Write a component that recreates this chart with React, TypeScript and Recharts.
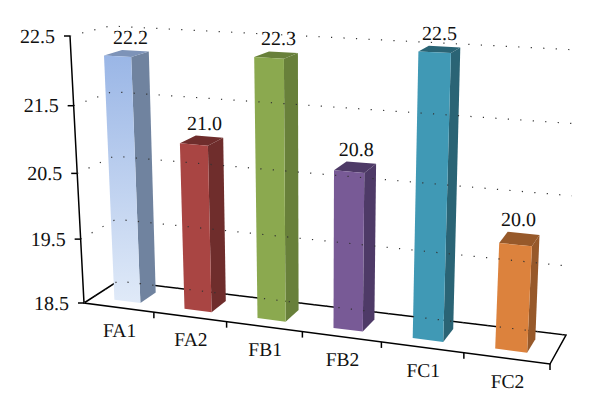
import React from 'react';
import { BarChart, Bar, XAxis, YAxis, Cell, LabelList } from 'recharts';

const categories = ['FA1', 'FA2', 'FB1', 'FB2', 'FC1', 'FC2'];
const values = [22.2, 21.0, 22.3, 20.8, 22.5, 20.0];
const valueTicks = [18.5, 19.5, 20.5, 21.5, 22.5];

const frontColors = ['url(#fa1Fill)', '#a94543', '#8ba94f', '#785a96', '#4099b5', '#dc823d'];
const sideColors = ['#70839f', '#6f2d2c', '#68803a', '#4e3a67', '#2a6475', '#97592a'];
const topColors = ['#7d93b8', '#6f2d2c', '#68803a', '#4e3a67', '#2a6475', '#97592a'];

const data = categories.map((name, i) => ({ name, value: values[i] }));

const WIDTH = 600;
const HEIGHT = 418;
const MARGIN = 20;
const AXIS_SIZE = 1;
const PLOT_W = WIDTH - MARGIN * 2;
const PLOT_H = HEIGHT - MARGIN * 2;
const FONT = '"Liberation Serif", serif';
const TEXT_STYLE = { textRendering: 'geometricPrecision' } as const;

type Pt = [number, number];
type Quad = [Pt, Pt, Pt, Pt]; // bottom-left, bottom-right, top-right, top-left

// the box corners as they sit in the picture
const frontPlane: Quad = [[84, 303], [550, 364], [566, 63], [70, 36]];
const backPlane: Quad = [[118, 281], [566, 335], [578, 50], [110, 26]];
const BAR_NEAR = 0.27;
const BAR_FAR = 0.74;

// unit square -> quad homography
function homography([p0, p1, p2, p3]: Quad) {
  const dx1 = p1[0] - p2[0];
  const dx2 = p3[0] - p2[0];
  const dx3 = p0[0] - p1[0] + p2[0] - p3[0];
  const dy1 = p1[1] - p2[1];
  const dy2 = p3[1] - p2[1];
  const dy3 = p0[1] - p1[1] + p2[1] - p3[1];
  const det = dx1 * dy2 - dx2 * dy1;
  const g = (dx3 * dy2 - dx2 * dy3) / det;
  const h = (dx1 * dy3 - dx3 * dy1) / det;
  const a = p1[0] - p0[0] + g * p1[0];
  const b = p3[0] - p0[0] + h * p3[0];
  const d = p1[1] - p0[1] + g * p1[1];
  const e = p3[1] - p0[1] + h * p3[1];
  return (u: number, v: number): Pt => {
    const q = g * u + h * v + 1;
    return [(a * u + b * v + p0[0]) / q, (d * u + e * v + p0[1]) / q];
  };
}

const front = homography(frontPlane);
const back = homography(backPlane);

// u along the categories, v up the value axis, w from front to back
function project(u: number, v: number, w: number): Pt {
  const f = front(u, v);
  const b = back(u, v);
  return [f[0] + (b[0] - f[0]) * w, f[1] + (b[1] - f[1]) * w];
}

const toU = (x: number) => (x - MARGIN) / PLOT_W;
const toV = (y: number) => (MARGIN + PLOT_H - y) / PLOT_H;
const path = (pts: Pt[]) => pts.map((p) => p.map((n) => n.toFixed(1)).join(',')).join(' ');

function ValueTick({ y, payload }: any) {
  const v = toV(y);
  const [ax, ay] = project(0, v, 0);
  return (
    <g>
      <polyline
        points={path([project(0, v, 0), project(0, v, 1), project(1, v, 1)])}
        fill="none"
        stroke="#333"
        strokeWidth={1.2}
        strokeDasharray="1.2 11.3"
      />
      <line x1={ax - 6} y1={ay} x2={ax} y2={ay} stroke="#000" strokeWidth={1.5} />
      <text x={ax - 15} y={ay + 6.5} textAnchor="end" fontFamily={FONT} fontSize={20} fill="#111" style={TEXT_STYLE}>
        {Number(payload.value).toFixed(1)}
      </text>
    </g>
  );
}

function CategoryTick({ x, payload }: any) {
  const half = PLOT_W / categories.length / 2;
  const [cx, cy] = project(toU(x), 0, 0);
  const [tx, ty] = project(toU(x + half), 0, 0);
  return (
    <g>
      <line x1={tx} y1={ty} x2={tx} y2={ty + 6} stroke="#000" strokeWidth={1.5} />
      <text x={cx + 1} y={cy + 29.5} textAnchor="middle" fontFamily={FONT} fontSize={19.5} fill="#111" style={TEXT_STYLE}>
        {payload.value}
      </text>
    </g>
  );
}

function Floor() {
  return (
    <g>
      <polyline
        points={path([project(0, 1, 0), project(0, 0, 0), project(1, 0, 0), project(1, 0, 1), project(0, 0, 1), project(0, 0, 0)])}
        fill="none"
        stroke="#000"
        strokeWidth={1.5}
      />
    </g>
  );
}

function Bar3D({ x, y, width, index }: any) {
  const u0 = toU(x);
  const u1 = toU(x + width);
  const v = toV(y);
  return (
    <g>
      <polygon
        points={path([project(u1, 0, BAR_NEAR), project(u1, 0, BAR_FAR), project(u1, v, BAR_FAR), project(u1, v, BAR_NEAR)])}
        fill={sideColors[index]}
      />
      <polygon
        points={path([project(u0, v, BAR_NEAR), project(u1, v, BAR_NEAR), project(u1, v, BAR_FAR), project(u0, v, BAR_FAR)])}
        fill={topColors[index]}
      />
      <polygon
        points={path([project(u0, 0, BAR_NEAR), project(u1, 0, BAR_NEAR), project(u1, v, BAR_NEAR), project(u0, v, BAR_NEAR)])}
        fill={frontColors[index]}
      />
    </g>
  );
}

function BarValue({ x, y, width, value }: any) {
  const [lx, ly] = project(toU(x + width / 2), toV(y), BAR_FAR);
  return (
    <text x={lx - 5} y={ly - 7} textAnchor="middle" fontFamily={FONT} fontSize={20} fill="#111" style={TEXT_STYLE}>
      {Number(value).toFixed(1)}
    </text>
  );
}

export default function App() {
  return (
    <div style={{ position: 'absolute', left: 0, top: 0, background: '#fff' }}>
      <BarChart
        width={WIDTH}
        height={HEIGHT}
        data={data}
        margin={{ top: MARGIN, right: MARGIN, bottom: MARGIN - AXIS_SIZE, left: MARGIN - AXIS_SIZE }}
        barCategoryGap="31%"
      >
        <defs>
          <linearGradient id="fa1Fill" x1="0" y1="0" x2="0" y2="1">
            <stop offset="0%" stopColor="#9ab6e6" />
            <stop offset="100%" stopColor="#e0eaf8" />
          </linearGradient>
        </defs>
        <Floor />
        <XAxis dataKey="name" height={AXIS_SIZE} axisLine={false} tickLine={false} tick={<CategoryTick />} interval={0} />
        <YAxis
          width={AXIS_SIZE}
          domain={[18.5, 22.5]}
          ticks={valueTicks}
          interval={0}
          axisLine={false}
          tickLine={false}
          tick={<ValueTick />}
        />
        <Bar dataKey="value" shape={<Bar3D />} isAnimationActive={false}>
          {data.map((d) => (
            <Cell key={d.name} />
          ))}
          <LabelList dataKey="value" content={<BarValue />} />
        </Bar>
      </BarChart>
    </div>
  );
}
